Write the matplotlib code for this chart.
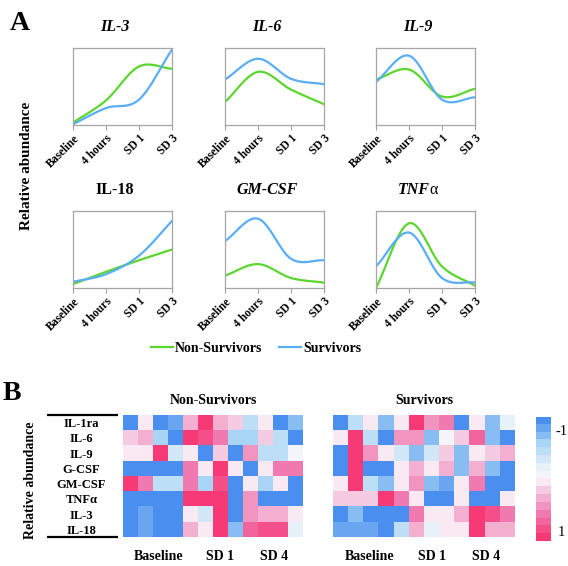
import numpy as np
import matplotlib
matplotlib.use("Agg")
from matplotlib import pyplot as plt
from matplotlib.colors import LinearSegmentedColormap
from matplotlib.lines import Line2D

plt.rcParams['font.family'] = ['Liberation Serif', 'DejaVu Serif']

# ---- panel A data (relative abundance, axis fraction) ----
timepoints = ['Baseline', '4 hours', 'SD 1', 'SD 3']
panel_titles = ['IL-3', 'IL-6', 'IL-9', 'IL-18', 'GM-CSF', 'TNF']
non_survivors = [
    [0.03, 0.32, 0.76, 0.73],   # IL-3
    [0.30, 0.69, 0.46, 0.27],   # IL-6
    [0.59, 0.72, 0.37, 0.47],   # IL-9
    [0.05, 0.21, 0.36, 0.50],   # IL-18
    [0.16, 0.31, 0.13, 0.07],   # GM-CSF
    [0.00, 0.84, 0.28, 0.03],   # TNFa
]
survivors = [
    [0.01, 0.22, 0.33, 0.98],
    [0.59, 0.86, 0.60, 0.53],
    [0.56, 0.90, 0.33, 0.36],
    [0.08, 0.18, 0.42, 0.87],
    [0.61, 0.90, 0.38, 0.36],
    [0.28, 0.72, 0.13, 0.07],
]

# ---- panel B data (-1 .. 1) ----
cytokines = ['IL-1ra', 'IL-6', 'IL-9', 'G-CSF', 'GM-CSF', 'TNF\u03b1', 'IL-3', 'IL-18']
heat_labels = ['Baseline', 'SD 1', 'SD 4']
heat_non = [
    [-1, 0.1, -1, -0.8, 0.3, 1, 0.3, 0.15, -0.5, 0, -1, -0.75],
    [0.2, 0.3, -0.6, -1, 0.95, 0.75, 0.5, -0.6, -0.6, 0.15, -0.45, -1],
    [0, 0, 1, -0.35, 0.1, -1, 0.2, -1, 0.4, -0.45, -0.5, -0.1],
    [-1, -1, -1, -1, 0.55, 0, 1, 0, -1, 0, 0.55, 0.55],
    [1, 0.5, -0.4, -0.4, 0.55, -0.6, 0.75, -1, 0.1, -0.6, 0.1, -1],
    [-1, -1, -1, -1, 1, 1, 1, -1, 0.4, -1, -1, -1],
    [-1, -0.8, -1, -1, 0.05, -0.35, 1, -1, 0.4, 0.25, 0.3, 0.05],
    [-1, -0.85, -1, -1, 0.25, 0.05, 1, -0.75, 0.7, 0.85, 0.75, -0.15],
]
heat_surv = [
    [-1, -0.4, 0, -0.75, 0.1, 1, 0.4, 0.5, -1, 0.1, -0.75, -0.25],
    [0, 1, -0.5, -1, 0.45, 0.45, -0.75, -0.1, 0.2, 0.7, -0.75, -0.9],
    [-1, 1, 0.4, 0, -0.35, -0.65, -0.35, 0.15, -0.65, 0, 0.15, 0.25],
    [-1, 1, -1, -1, 0.1, 0.35, 0.1, 0.25, -0.7, 0.25, -0.7, -1],
    [0.05, 1, -0.4, -0.75, 0.1, 0.4, -0.75, -0.85, 0.05, 0.55, -1, -1],
    [0.2, 0.2, 0.2, 1, 0.6, 0, -1, -1, 0, -1, -1, 0],
    [-1, -0.75, -1, -1, -1, 0.5, 0, 0, 0.25, 1, 0.75, 0.55],
    [-0.85, -0.8, -0.85, -1, -0.4, 0.35, -0.2, 0, 0.05, 1, 0.35, 0.25],
]

green = '#5cd62e'
blue = '#5aaef5'


def smooth(y, n=40):
    # Catmull-Rom through the points, like a spreadsheet "smoothed line"
    pts = np.column_stack([np.arange(len(y)), y]).astype(float)
    p = np.vstack([2 * pts[0] - pts[1], pts, 2 * pts[-1] - pts[-2]])
    out = []
    t = np.linspace(0, 1, n)[:, None]
    for i in range(1, len(p) - 2):
        p0, p1, p2, p3 = p[i - 1], p[i], p[i + 1], p[i + 2]
        c = 0.5 * (2 * p1 + (-p0 + p2) * t + (2 * p0 - 5 * p1 + 4 * p2 - p3) * t ** 2
                   + (-p0 + 3 * p1 - 3 * p2 + p3) * t ** 3)
        out.append(c)
    c = np.vstack(out)
    return c[:, 0], c[:, 1]


fig = plt.figure(figsize=(5.68, 5.66), dpi=100)
W, H = 568, 566

lefts = [73, 225, 376]
tops = [48, 211]
for k in range(6):
    r, c = divmod(k, 3)
    ax = fig.add_axes([lefts[c] / W, 1 - (tops[r] + 77) / H, 99 / W, 77 / H])
    x, yg = smooth(non_survivors[k])
    ax.plot(x, yg, color=green, lw=1.6, solid_capstyle='round')
    x, yb = smooth(survivors[k])
    ax.plot(x, yb, color=blue, lw=1.6, solid_capstyle='round')
    ax.set_xlim(0, 3)
    ax.set_ylim(0, 1)
    ax.set_yticks([])
    ax.set_xticks(range(4))
    ax.set_xticklabels(timepoints, rotation=45, ha='right', va='top',
                       rotation_mode='anchor', fontsize=8.3, fontweight='bold')
    ax.tick_params(axis='x', length=3.5, color='#a0a0a0', pad=2)
    for s in ax.spines.values():
        s.set_color('#a6a6a6')
        s.set_linewidth(0.9)
    title = panel_titles[k]
    style = 'normal' if title == 'IL-18' else 'italic'
    if title == 'TNF':
        t = ax.set_title(title, fontsize=11.5, fontweight='bold', style='italic',
                         pad=12, x=0.38)
        ax.annotate('\u03b1', xy=(1, 0), xycoords=t, fontsize=11.5, va='bottom')
    else:
        ax.set_title(title, fontsize=11.5, fontweight='bold', style=style, pad=12,
                     x=0.42)

fig.text(20 / W, 1 - 23 / H, 'A', fontsize=20, fontweight='bold', ha='center', va='center')
fig.text(27 / W, 1 - 166 / H, 'Relative abundance', fontsize=11, fontweight='bold',
         rotation=90, ha='center', va='center')

# legend
handles = [Line2D([], [], color=green, lw=1.6), Line2D([], [], color=blue, lw=1.6)]
fig.legend(handles, ['Non-Survivors', 'Survivors'], loc='center',
           bbox_to_anchor=(256 / W, 1 - 348 / H), ncol=2, frameon=False,
           prop={'weight': 'bold', 'size': 10}, handlelength=1.6,
           handletextpad=0.15, columnspacing=1.2)

# ---- panel B ----
cmap = LinearSegmentedColormap.from_list(
    'bp', [(0, '#4a8ef0'), (0.2, '#a8d5f5'), (0.4, '#e6f1f8'), (0.5, '#faf8fc'),
           (0.62, '#f5c2dc'), (0.8, '#f07aaf'), (1, '#f73a76')], N=16)

fig.text(12 / W, 1 - 394 / H, 'B', fontsize=20, fontweight='bold', ha='center', va='center')
fig.text(30 / W, 1 - 480 / H, 'Relative abundance', fontsize=10, fontweight='bold',
         rotation=90, ha='center', va='center')

heat_pos = [(123, 180, heat_non, 'Non-Survivors'), (333, 182, heat_surv, 'Survivors')]
for j, (x0, w, data, name) in enumerate(heat_pos):
    ax = fig.add_axes([x0 / W, 1 - 537 / H, w / W, 122 / H])
    ax.imshow(np.array(data), cmap=cmap, vmin=-1, vmax=1, aspect='auto',
              interpolation='nearest')
    for s in ax.spines.values():
        s.set_visible(False)
    ax.set_xticks([1.9, 6.0, 9.6])
    ax.set_xticklabels(heat_labels, fontsize=10, fontweight='bold')
    ax.tick_params(axis='x', length=0, pad=9)
    ax.set_title(name, fontsize=10, fontweight='bold', pad=8)
    if j == 0:
        ax.set_yticks(range(len(cytokines)))
        ax.set_yticklabels(cytokines, fontsize=9, fontweight='bold', ha='center')
        ax.tick_params(axis='y', length=0, pad=30)
        for yy in (-0.5, 7.5):
            ax.plot([-5.57, -0.83], [yy, yy], color='black', lw=1.6,
                    clip_on=False, solid_capstyle='butt')
        ax.set_xlim(-0.5, 11.5)
        ax.set_ylim(7.5, -0.5)
    else:
        ax.set_yticks([])

cax = fig.add_axes([536 / W, 1 - 541 / H, 15 / W, 124 / H])
cax.imshow(np.linspace(-1, 1, 16).reshape(-1, 1), cmap=cmap, vmin=-1, vmax=1,
           aspect='auto', interpolation='nearest')
cax.axis('off')
cax.text(1.3, 0.88, '-1', transform=cax.transAxes, fontsize=10.5, va='center')
cax.text(1.45, 0.07, '1', transform=cax.transAxes, fontsize=10.5, va='center')

fig.savefig('out.png', dpi=100)
